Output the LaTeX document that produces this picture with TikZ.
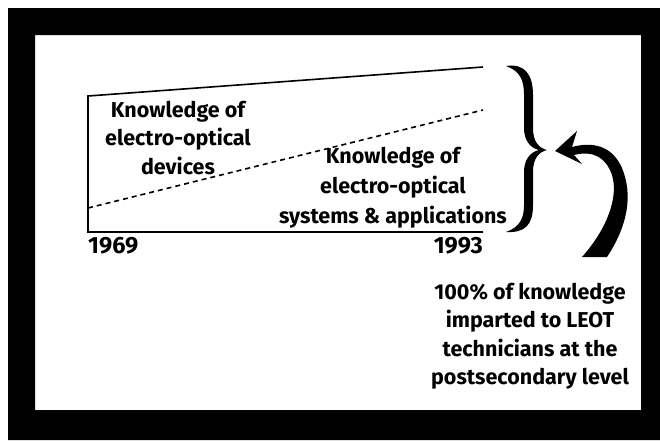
\documentclass[tikz,border=0pt]{standalone}
\usepackage{fontspec}
\setmainfont{Fira Sans}
\begin{document}
\begin{tikzpicture}[x=1pt,y=-1pt,
  lbl/.style={font=\fontsize{21.5}{28.5}\selectfont\bfseries, align=center, inner sep=0pt},
  yearlbl/.style={font=\fontsize{23.5}{28}\selectfont\bfseries, inner sep=0pt},
  chartline/.style={line width=1.6pt},
]
\useasboundingbox (0,0) rectangle (660,440);
% frame
\fill[black,even odd rule] (8,8) rectangle (660,440) (35,35) rectangle (641,410);
% chart
\coordinate (tl) at (88,96);
\coordinate (tr) at (483,67);
\coordinate (bl) at (88,232);
\coordinate (br) at (483,232);
\coordinate (dl) at (88,208);
\coordinate (dr) at (483,110);
\draw[chartline] (tr) -- (tl) -- (bl) -- (br);
\draw[chartline, dash pattern=on 5pt off 4pt] (dl) -- (dr);
% labels
\node[lbl] (dev) at (178,138) {Knowledge of\\electro-optical\\devices};
\node[lbl, font=\fontsize{21.5}{30}\selectfont\bfseries] (sys) at (393,188) {Knowledge of\\electro-optical\\systems \& applications};
\node[yearlbl, anchor=west] (y1) at (88,246) {1969};
\node[yearlbl, anchor=east] (y2) at (483,246) {1993};
\node[lbl] (pct) at (530,336) {100\% of knowledge\\imparted to LEOT\\technicians at the\\postsecondary level};
% brace
\fill (506,66) .. controls (525,63) and (533,75) .. (533,95)
  -- (533,128) .. controls (533,142) and (539,148) .. (547,150)
  .. controls (539,152) and (533,158) .. (533,172)
  -- (533,205) .. controls (533,225) and (525,233) .. (506,232)
  .. controls (520,227) and (524,218) .. (524,205)
  -- (524,172) .. controls (524,160) and (530,152) .. (539,150)
  .. controls (530,148) and (524,140) .. (524,128)
  -- (524,95) .. controls (524,80) and (520,71) .. (506,66) -- cycle;
% curved arrow
\fill (607,257) .. controls (628,225) and (633,195) .. (622,168)
  .. controls (614,150) and (598,140) .. (572,147)
  -- (577,131) -- (555,151) -- (582,164) -- (574,155)
  .. controls (594,150) and (606,158) .. (612,175)
  .. controls (619,198) and (606,230) .. (582,257) -- cycle;
\end{tikzpicture}
\end{document}
